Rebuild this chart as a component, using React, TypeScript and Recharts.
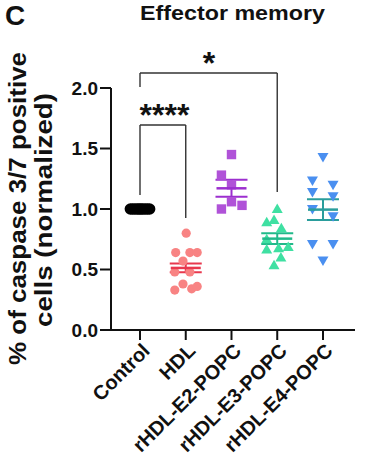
import React from "react";
import {
  ScatterChart,
  Scatter,
  XAxis,
  YAxis,
  ErrorBar,
  ReferenceLine,
  ReferenceDot,
} from "recharts";

// values (normalized caspase 3/7 positive cells)
const categories = ["Control", "HDL", "rHDL-E2-POPC", "rHDL-E3-POPC", "rHDL-E4-POPC"];
const yTicks = [0, 0.5, 1.0, 1.5, 2.0];

const controlValues = [1, 1, 1, 1, 1, 1, 1, 1, 1, 1];
const controlJitter = [-0.21, -0.16, -0.11, -0.06, -0.02, 0.02, 0.06, 0.11, 0.16, 0.21];
const hdlValues = [0.8, 0.64, 0.64, 0.64, 0.57, 0.48, 0.48, 0.38, 0.33, 0.34, 0.36];
const hdlJitter = [0.01, -0.22, 0.09, 0.25, -0.06, -0.24, 0.09, -0.06, -0.24, 0.13, 0.25];
const e2Values = [1.45, 1.28, 1.2, 1.06, 1.0, 1.03];
const e2Jitter = [0, -0.22, 0, 0, -0.22, 0.23];
const e3Values = [1.0, 0.89, 0.91, 0.84, 0.75, 0.665, 0.675, 0.686, 0.6, 0.535];
const e3Jitter = [0, -0.23, -0.07, 0.09, -0.23, -0.23, 0.03, 0.24, 0.08, -0.07];
const e4Values = [1.43, 1.235, 1.2, 1.14, 1.105, 1.0, 0.94, 0.71, 0.71, 0.575];
const e4Jitter = [0, -0.23, 0.22, -0.23, 0.22, -0.23, 0.22, -0.23, 0.22, 0];

const means = [1.0, 0.513, 1.171, 0.755, 0.995];
const sems = [0, 0.036, 0.07, 0.045, 0.085];

// significance brackets: [from group, to group, top, left leg end, right leg end]
const brackets: [number, number, number, number, number][] = [
  [1, 2, 1.694, 1.116, 0.926],
  [1, 4, 2.124, 2.008, 1.14],
];
const starPos = [
  { x: 1.535, y: 1.826, text: "****" },
  { x: 2.51, y: 2.256, text: "*" },
];

const font = "'Liberation Sans', Arial, sans-serif";

const toPoints = (group: number, values: number[], jitter: number[]) =>
  values.map((v, i) => ({ x: group + jitter[i], y: v }));

const meanData = (i: number) => [{ x: i + 1, y: means[i], sem: sems[i] }];

const circle = (fill: string, r: number) => (p: any) => (
  <circle cx={p.cx} cy={p.cy} r={r} fill={fill} />
);
const square = (fill: string) => (p: any) => (
  <rect x={p.cx - 4.7} y={p.cy - 4.7} width={9.4} height={9.4} fill={fill} />
);
const triUp = (fill: string) => (p: any) => (
  <path d={`M${p.cx},${p.cy - 5.5} L${p.cx + 5.5},${p.cy + 4} L${p.cx - 5.5},${p.cy + 4} Z`} fill={fill} />
);
const triDown = (fill: string) => (p: any) => (
  <path d={`M${p.cx},${p.cy + 5.5} L${p.cx + 5.5},${p.cy - 4} L${p.cx - 5.5},${p.cy - 4} Z`} fill={fill} />
);
const meanLine = (stroke: string) => (p: any) => (
  <line x1={p.cx - 15} x2={p.cx + 15} y1={p.cy} y2={p.cy} stroke={stroke} strokeWidth={2.5} />
);

const groupColors = ["#000000", "#f88383", "#b052d8", "#3fe0a2", "#4a8ff0"];
const meanColors = ["#000000", "#e8384e", "#9c2fcf", "#22b98a", "#2a9d9c"];

function XTick({ x, y, payload }: any) {
  const label = categories[payload.value - 1];
  const ax = x + 6;
  const ay = y + 5;
  return (
    <text
      x={ax}
      y={ay}
      textAnchor="end"
      dy="0.35em"
      transform={`rotate(-45 ${ax} ${ay})`}
      fontFamily={font}
      fontWeight="bold"
      fontSize={20}
      fill="#111"
    >
      {label}
    </text>
  );
}

export default function App() {
  return (
    <div style={{ position: "absolute", left: 0, top: 0, width: 367, height: 462, background: "#fff" }}>
      <ScatterChart width={367} height={462} margin={{ top: 88, right: 12, bottom: 0, left: 0 }}>
        <XAxis
          type="number"
          dataKey="x"
          domain={[0.366, 5.7]}
          ticks={[1, 2, 3, 4, 5]}
          interval={0}
          allowDataOverflow
          height={132}
          tickSize={10}
          tick={<XTick />}
          axisLine={{ stroke: "#111", strokeWidth: 2 }}
          tickLine={{ stroke: "#111", strokeWidth: 2 }}
        />
        <YAxis
          type="number"
          dataKey="y"
          domain={[0, 2]}
          ticks={yTicks}
          interval={0}
          width={111}
          tickSize={11}
          tickMargin={2}
          tickFormatter={(v: number) => v.toFixed(1)}
          tick={{ fill: "#111", fontFamily: font, fontWeight: "bold", fontSize: 19 }}
          axisLine={{ stroke: "#111", strokeWidth: 2 }}
          tickLine={{ stroke: "#111", strokeWidth: 2 }}
        />
        <Scatter data={toPoints(1, controlValues, controlJitter)} shape={circle(groupColors[0], 5.8)} isAnimationActive={false} />
        <Scatter data={toPoints(2, hdlValues, hdlJitter)} shape={circle(groupColors[1], 4.6)} isAnimationActive={false} />
        <Scatter data={toPoints(3, e2Values, e2Jitter)} shape={square(groupColors[2])} isAnimationActive={false} />
        <Scatter data={toPoints(4, e3Values, e3Jitter)} shape={triUp(groupColors[3])} isAnimationActive={false} />
        <Scatter data={toPoints(5, e4Values, e4Jitter)} shape={triDown(groupColors[4])} isAnimationActive={false} />
        {[1, 2, 3, 4].map((i) => (
          <Scatter key={i} data={meanData(i)} shape={meanLine(meanColors[i])} isAnimationActive={false}>
            <ErrorBar dataKey="sem" direction="y" width={16} strokeWidth={2} stroke={meanColors[i]} isAnimationActive={false} />
          </Scatter>
        ))}
        {brackets.map(([a, b, top, l, r], i) => (
          <React.Fragment key={i}>
            <ReferenceLine segment={[{ x: a, y: l }, { x: a, y: top }]} stroke="#333" strokeWidth={1.4} ifOverflow="visible" />
            <ReferenceLine segment={[{ x: a, y: top }, { x: b, y: top }]} stroke="#333" strokeWidth={1.4} ifOverflow="visible" />
            <ReferenceLine segment={[{ x: b, y: top }, { x: b, y: r }]} stroke="#333" strokeWidth={1.4} ifOverflow="visible" />
          </React.Fragment>
        ))}
        {starPos.map((s, i) => (
          <ReferenceDot
            key={i}
            x={s.x}
            y={s.y}
            ifOverflow="visible"
            shape={(p: any) => (
              <text
                x={p.cx}
                y={p.cy + 17}
                textAnchor="middle"
                fontFamily={font}
                fontWeight="bold"
                fontSize={32}
                fill="#111"
              >
                {s.text}
              </text>
            )}
          />
        ))}
      </ScatterChart>
      <svg
        width={367}
        height={462}
        style={{ position: "absolute", left: 0, top: 0, pointerEvents: "none" }}
        fontFamily={font}
        fontWeight="bold"
        fill="#111"
      >
        <text x={5} y={25} fontSize={28}>C</text>
        <text x={232.5} y={20} fontSize={21} textAnchor="middle" textLength={185} lengthAdjust="spacingAndGlyphs">
          Effector memory
        </text>
        <text
          x={26}
          y={208.5}
          fontSize={23}
          textAnchor="middle"
          transform="rotate(-90 26 208.5)"
          textLength={313}
          lengthAdjust="spacingAndGlyphs"
        >
          % of caspase 3/7 positive
        </text>
        <text
          x={52}
          y={210}
          fontSize={23}
          textAnchor="middle"
          transform="rotate(-90 52 210)"
          textLength={234}
          lengthAdjust="spacingAndGlyphs"
        >
          cells (normalized)
        </text>
      </svg>
    </div>
  );
}
